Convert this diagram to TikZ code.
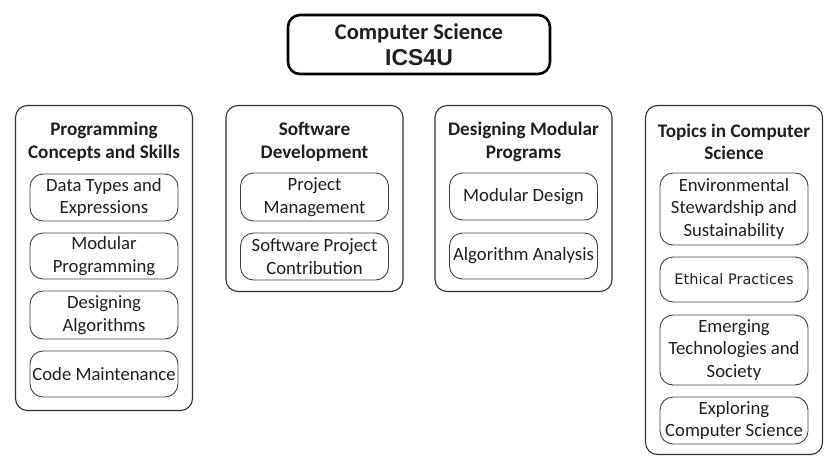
\documentclass[tikz,border=0pt]{standalone}
\usepackage{fontspec}
\setmainfont{Carlito}
\newfontfamily\headfont{Liberation Sans}
\newfontfamily\smallfont{DejaVu Sans}
\usetikzlibrary{positioning}

\begin{document}
\begin{tikzpicture}
    \tikzset{x=1pt,y=-1pt,every node/.style={text=black!88,align=center,inner sep=0pt},
      course/.style={draw=black,line width=2.6pt,rounded corners=12pt,minimum width=262pt,minimum height=59pt},
      strand/.style={draw=black!80,line width=1.1pt,rounded corners=12pt,minimum width=177pt},
      topic/.style={draw=black!75,line width=0.9pt,rounded corners=13pt,minimum width=148pt},
      txt/.style={font=\fontsize{18.7}{22.5}\selectfont},
      head/.style={font=\fontsize{19.2}{22.5}\selectfont\bfseries}}
    \useasboundingbox (0,0) rectangle (837,466);
    % course
    \node [course,font=\fontsize{22.5}{26}\selectfont\bfseries]   (cs) at (419,44.5)
        {Computer Science\\{\headfont\fontsize{23}{26}\selectfont ICS4U}};
    % strands
    \node [strand,minimum height=305pt]   (s1) at (104,258)  {};
    \node [strand,minimum height=186pt]   (s2) at (314.5,198.5)  {};
    \node [strand,minimum height=186pt]   (s3) at (523.5,198.5)  {};
    \node [strand,minimum height=349pt]   (s4) at (734,280)  {};
    \node [head]   (h1) at (104,142)  {Programming\\Concepts and Skills};
    \node [head]   (h2) at (314.5,142)  {Software\\Development};
    \node [head]   (h3) at (523.5,142)  {Designing Modular\\Programs};
    \node [head]   (h4) at (734,142)  {Topics in Computer\\Science};
    % topics
    \node [topic,txt,minimum height=47pt]   (t11) at (104,197.5)  {Data Types and\\Expressions};
    \node [topic,txt,minimum height=46pt]   (t12) at (104,256)  {Modular\\Programming};
    \node [topic,txt,minimum height=48pt]   (t13) at (104,315)  {Designing\\Algorithms};
    \node [topic,txt,minimum height=46pt]   (t14) at (104,374)  {Code Maintenance};
    \node [topic,txt,minimum height=48pt]   (t21) at (314.5,197)  {Project\\Management};
    \node [topic,txt,minimum height=47pt]   (t22) at (314.5,256.5)  {Software Project\\Contribution};
    \node [topic,txt,minimum height=47pt]   (t31) at (523.5,196.5)  {Modular Design};
    \node [topic,txt,minimum height=46pt]   (t32) at (523.5,256)  {Algorithm Analysis};
    \node [topic,txt,minimum height=72pt]   (t41) at (734,209)  {Environmental\\Stewardship and\\Sustainability};
    \node [topic,minimum height=45pt,font=\smallfont\fontsize{14.5}{16}\selectfont]   (t42) at (734,279.5)  {Ethical Practices};
    \node [topic,txt,minimum height=70pt]   (t43) at (734,350)  {Emerging\\Technologies and\\Society};
    \node [topic,txt,minimum height=47pt]   (t44) at (734,420.5)  {Exploring\\Computer Science};
\end{tikzpicture}
\end{document}
